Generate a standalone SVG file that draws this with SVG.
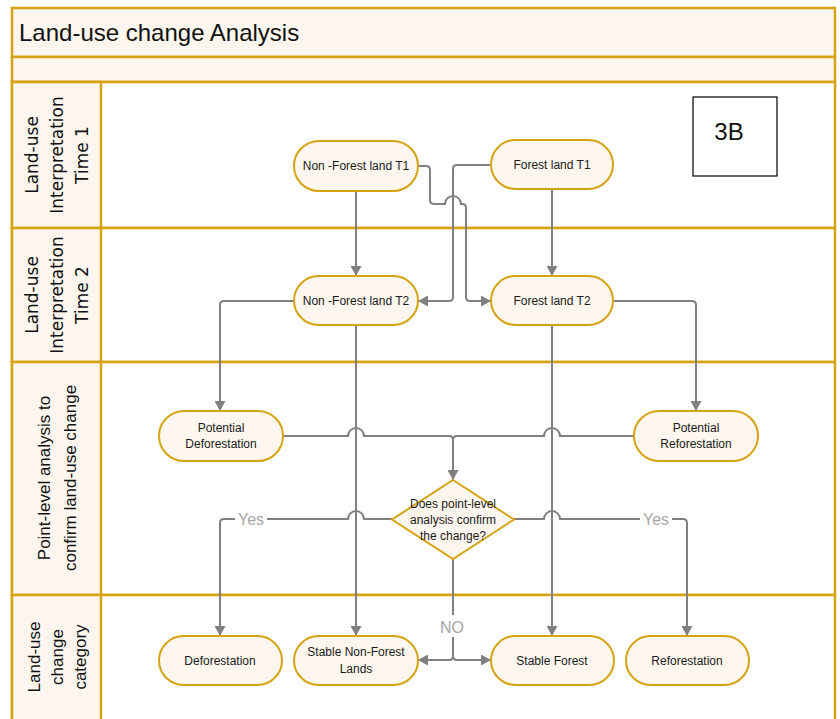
<svg xmlns="http://www.w3.org/2000/svg" width="840" height="719" viewBox="0 0 840 719">
<defs>
<marker id="arr" markerWidth="10" markerHeight="11" refX="10" refY="5.5" orient="auto" markerUnits="userSpaceOnUse">
<path d="M0,0 L10,5.5 L0,11 z" fill="#808080"/>
</marker>
<style>
.band{fill:#FDF6EE;stroke:#D6A313;stroke-width:2.5}
.lane{fill:#FFFFFF;stroke:#D6A313;stroke-width:2.5}
.node{fill:#FEF7EF;stroke:#D6A313;stroke-width:2}
.t{font-family:"Liberation Sans",Arial,sans-serif;font-size:12px;fill:#1a1a1a;text-anchor:middle}
.lbl{font-family:"DejaVu Sans",Verdana,sans-serif;font-size:17px;fill:#111;text-anchor:middle}
.lbl2{font-family:"Liberation Sans",Arial,sans-serif;font-size:17px;fill:#111;text-anchor:middle}
.c{fill:none;stroke:#808080;stroke-width:2}
.ca{fill:none;stroke:#808080;stroke-width:2;marker-end:url(#arr)}
.yes{font-family:"Liberation Sans",Arial,sans-serif;font-size:16px;fill:#A6A6A6;text-anchor:middle}
</style>
</defs>
<g id="frame">
<rect x="12" y="8" width="823" height="49" class="band"/>
<rect x="12" y="57" width="823" height="25" class="band"/>
<rect x="12" y="82" width="823" height="146" class="lane"/>
<rect x="12" y="228" width="823" height="134" class="lane"/>
<rect x="12" y="362" width="823" height="233" class="lane"/>
<rect x="12" y="595" width="823" height="130" class="lane"/>
<rect x="12" y="82" width="89" height="146" class="band"/>
<rect x="12" y="228" width="89" height="134" class="band"/>
<rect x="12" y="362" width="89" height="233" class="band"/>
<rect x="12" y="595" width="89" height="130" class="band"/>
<text x="19" y="41" font-family="Liberation Sans, Arial, sans-serif" font-size="24" fill="#111">Land-use change Analysis</text>
<g transform="translate(57,155) rotate(-90)"><text class="lbl"><tspan x="0" y="-19">Land-use</tspan><tspan x="0" y="6">Interpretation</tspan><tspan x="0" y="31">Time 1</tspan></text></g>
<g transform="translate(57,295) rotate(-90)"><text class="lbl"><tspan x="0" y="-19">Land-use</tspan><tspan x="0" y="6">Interpretation</tspan><tspan x="0" y="31">Time 2</tspan></text></g>
<g transform="translate(57,478) rotate(-90)"><text class="lbl2"><tspan x="0" y="-7">Point-level analysis to</tspan><tspan x="0" y="19">confirm land-use change</tspan></text></g>
<g transform="translate(57,657) rotate(-90)"><text class="lbl2"><tspan x="0" y="-17">Land-use</tspan><tspan x="0" y="6">change</tspan><tspan x="0" y="29">category</tspan></text></g>
</g>
<g id="label-3B">
<rect x="693" y="97" width="84" height="79" fill="#FFFFFF" stroke="#000" stroke-width="1.2"/>
<text x="729" y="140" font-family="Liberation Sans, Arial, sans-serif" font-size="24" fill="#111" text-anchor="middle">3B</text>
</g>
<g id="connectors">
<path class="ca" d="M356,191 V276"/>
<path class="ca" d="M552,189 V276"/>
<path class="ca" d="M418,166 H426 Q430,166 430,170 V200 Q430,204 434,204 H445 A8,8 0 0 1 461,204 H462 Q466,204 466,208 V297 Q466,301 470,301 H491"/>
<path class="ca" d="M491,165 H457 Q453,165 453,169 V297 Q453,301 449,301 H418"/>
<path class="ca" d="M294,301 H224 Q220,301 220,305 V411"/>
<path class="ca" d="M613,301 H692 Q696,301 696,305 V411"/>
<path class="ca" d="M356,325 V636"/>
<path class="ca" d="M552,325 V636"/>
<path class="ca" d="M283,436 H348 A8,8 0 0 1 364,436 H449 Q453,436 453,440 V480"/>
<path class="c" d="M634,436 H560 A8,8 0 0 0 544,436 H457 Q453,436 453,440"/>
<path class="ca" d="M392,519 H364 A8,8 0 0 0 348,519 H224 Q220,519 220,523 V636"/>
<path class="ca" d="M514,519 H544 A8,8 0 0 1 560,519 H683 Q687,519 687,523 V636"/>
<path class="c" d="M453,559 V615"/>
<path class="ca" d="M453,637 V656 Q453,660 449,660 H418"/>
<path class="ca" d="M453,656 Q453,660 457,660 H491"/>
<rect x="235" y="509" width="32" height="20" fill="#FFFFFF"/>
<text class="yes" x="251" y="525">Yes</text>
<rect x="640" y="509" width="32" height="20" fill="#FFFFFF"/>
<text class="yes" x="656" y="525">Yes</text>
<text class="yes" x="452" y="633" font-size="15">NO</text>
</g>
<g id="n-nf-t1"><rect x="294" y="141" width="124" height="50" rx="25" class="node"/><text class="t" x="356" y="170">Non -Forest land T1</text></g>
<g id="n-f-t1"><rect x="491" y="140" width="122" height="49" rx="24.5" class="node"/><text class="t" x="552" y="169">Forest land T1</text></g>
<g id="n-nf-t2"><rect x="294" y="276" width="124" height="49" rx="24.5" class="node"/><text class="t" x="356" y="305">Non -Forest land T2</text></g>
<g id="n-f-t2"><rect x="491" y="276" width="122" height="49" rx="24.5" class="node"/><text class="t" x="552" y="305">Forest land T2</text></g>
<g id="n-pot-def"><rect x="159" y="411" width="124" height="50" rx="25" class="node"/><text class="t"><tspan x="221" y="432">Potential</tspan><tspan x="221" y="448">Deforestation</tspan></text></g>
<g id="n-pot-ref"><rect x="634" y="411" width="124" height="50" rx="25" class="node"/><text class="t"><tspan x="696" y="432">Potential</tspan><tspan x="696" y="448">Reforestation</tspan></text></g>
<g id="n-decision"><polygon points="453,480 514,519.5 453,559 392,519.5" class="node"/><text class="t"><tspan x="453" y="508">Does point-level</tspan><tspan x="453" y="524">analysis confirm</tspan><tspan x="453" y="540">the change?</tspan></text></g>
<g id="n-def"><rect x="159" y="636" width="123" height="49" rx="24.5" class="node"/><text class="t" x="220" y="665">Deforestation</text></g>
<g id="n-snf"><rect x="294" y="636" width="124" height="49" rx="24.5" class="node"/><text class="t"><tspan x="356" y="656">Stable Non-Forest</tspan><tspan x="356" y="673">Lands</tspan></text></g>
<g id="n-sf"><rect x="491" y="636" width="123" height="49" rx="24.5" class="node"/><text class="t" x="552" y="665">Stable Forest</text></g>
<g id="n-ref"><rect x="626" y="636" width="123" height="49" rx="24.5" class="node"/><text class="t" x="687" y="665">Reforestation</text></g>
</svg>
